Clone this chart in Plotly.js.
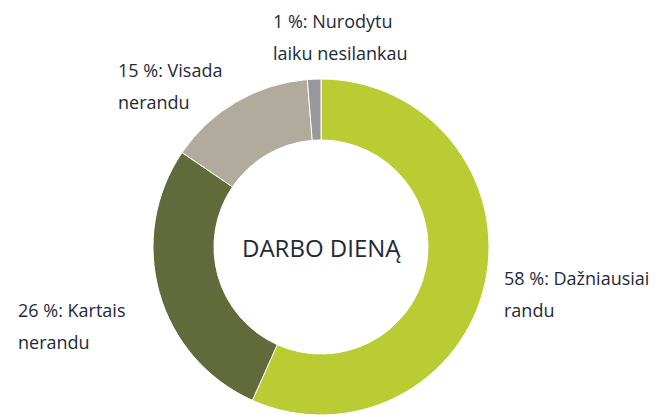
<!DOCTYPE html>
<html>
<head>
<meta charset="utf-8">
<script src="https://cdn.plot.ly/plotly-3.0.1.min.js"></script>
<style>html,body{margin:0;padding:0;background:#fff;}#chart{width:661px;height:417px;}</style>
</head>
<body>
<div id="chart"></div>
<script>
const categories = ["Dažniausiai randu", "Kartais nerandu", "Visada nerandu", "Nurodytu laiku nesilankau"];
// slice sizes as drawn in the picture (angles measured from the ring)
const values = [56.7, 27.8, 14.2, 1.3];
// percentages as printed in the labels
const printedPercent = [58, 26, 15, 1];
const colors = ["#b9cc33", "#616a3a", "#b0ab9c", "#97989c"];
const labelLine1 = ["Dažniausiai", "Kartais", "Visada", "Nurodytu"];
const labelLine2 = ["randu", "nerandu", "nerandu", "laiku nesilankau"];
const centerText = "DARBO DIENĄ";

const W = 661, H = 417;
const cx = 321, cy = 247, R = 168;
// label anchor positions (px, top-left origin) for each category
const labelPos = [[502, 278], [16, 310], [116, 70], [271, 21]];
const lineGap = 32;
const textColor = "#1e2a38";
const font = "Open Sans, sans-serif";

const annotations = [];
labelLine1.forEach((t, i) => {
  const [px, py] = labelPos[i];
  [printedPercent[i] + " %: " + t, labelLine2[i]].forEach((line, j) => {
    annotations.push({
      xref: "paper", yref: "paper",
      x: px / W, y: 1 - (py + j * lineGap) / H,
      xanchor: "left", yanchor: "middle",
      text: line, showarrow: false,
      font: {family: font, size: 18, color: textColor}
    });
  });
});
annotations.push({
  xref: "paper", yref: "paper", x: cx / W, y: 1 - cy / H,
  xanchor: "center", yanchor: "middle", showarrow: false,
  text: centerText, font: {family: font, size: 24, color: textColor}
});

Plotly.newPlot("chart", [{
  type: "pie",
  labels: categories,
  values: values,
  sort: false,
  direction: "clockwise",
  rotation: 0,
  hole: 0.637,
  textinfo: "none",
  marker: {colors: colors, line: {color: "#ffffff", width: 1}},
  domain: {x: [(cx - R) / W, (cx + R) / W], y: [1 - (cy + R) / H, 1 - (cy - R) / H]},
  showlegend: false,
  hoverinfo: "none"
}], {
  width: W, height: H,
  margin: {l: 0, r: 0, t: 0, b: 0},
  paper_bgcolor: "#ffffff",
  annotations: annotations,
  showlegend: false
}, {displayModeBar: false, staticPlot: true});
</script>
</body>
</html>
